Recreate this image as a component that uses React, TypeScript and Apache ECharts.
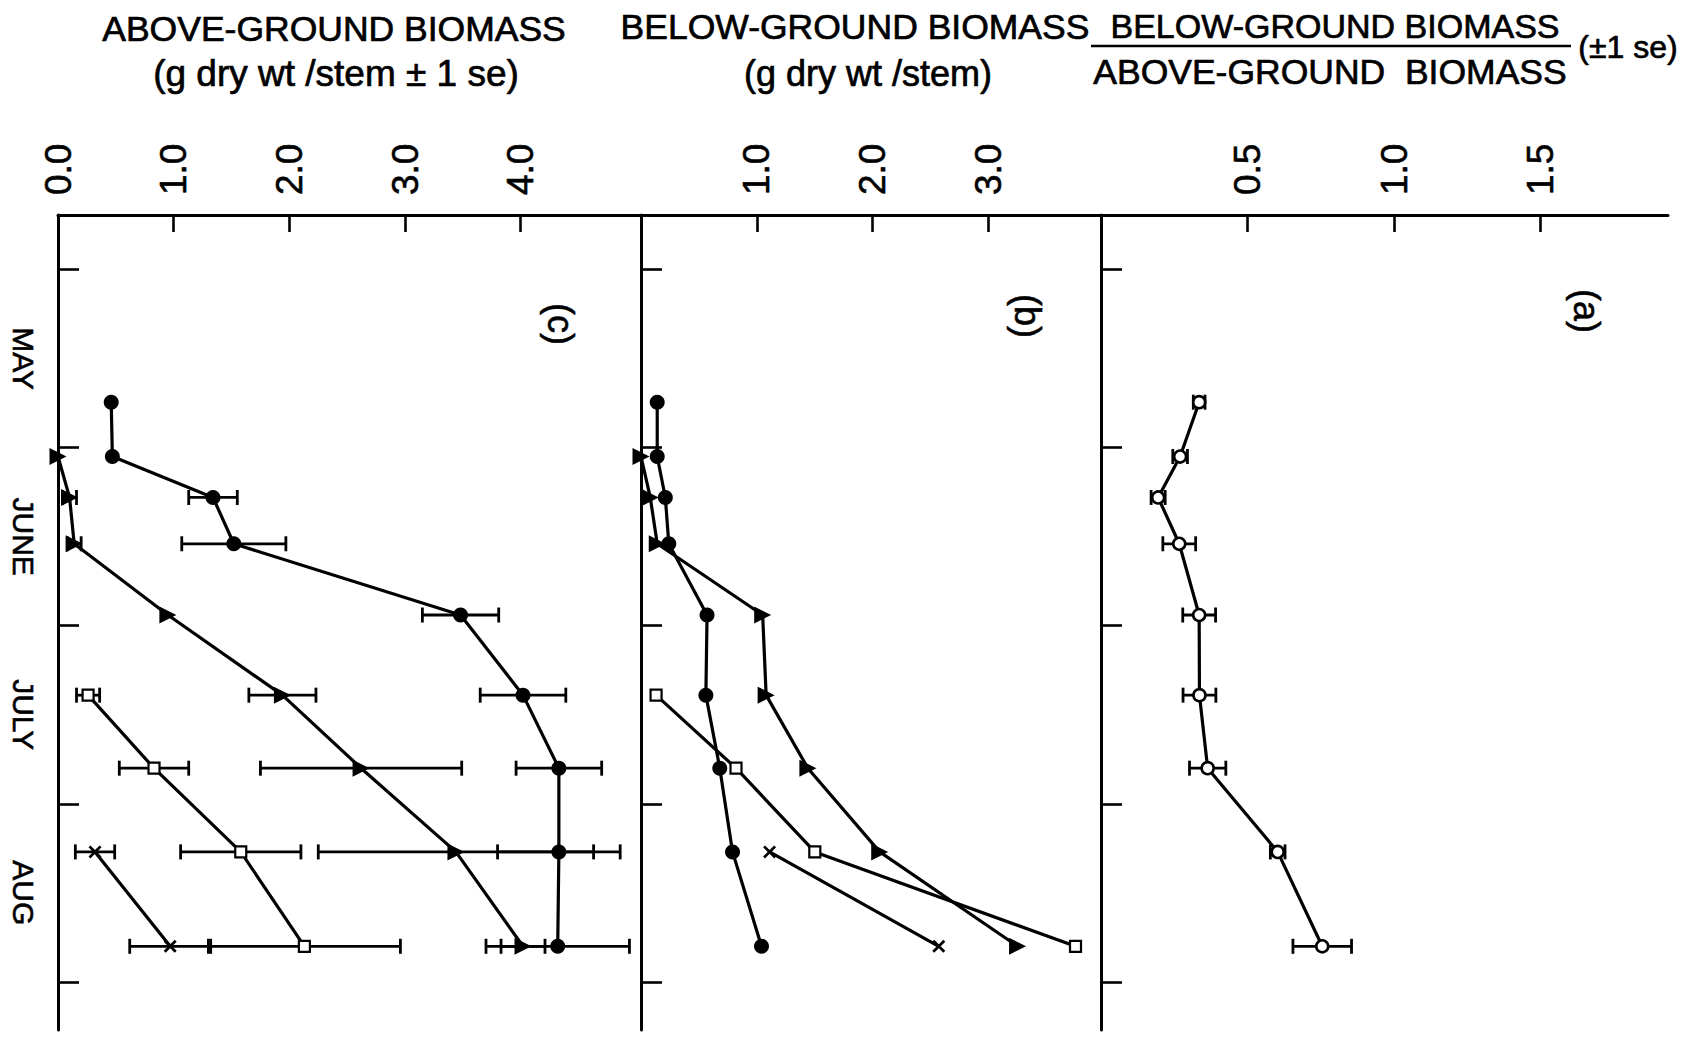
import React, { useEffect, useRef } from "react";
import * as echarts from "echarts";

// Time axis in month units: 0 = 1 May, 1 = 1 June, 2 = 1 July, 3 = 1 Aug, 4 = 1 Sep
const monthNames = ["MAY", "JUNE", "JULY", "AUG"];
const monthLabelPositions = [0.5, 1.5, 2.5, 3.5];
const monthTicks = [0, 1, 2, 3, 4];
const sampleTimes = [0.745, 1.05, 1.28, 1.54, 1.94, 2.39, 2.8, 3.27, 3.8];

// (c) Above-ground biomass (g dry wt / stem ± 1 se)
const aboveCircle = [0.46, 0.47, 1.34, 1.52, 3.48, 4.02, 4.33, 4.33, 4.32];
const aboveCircleSe = [0, 0, 0.21, 0.45, 0.33, 0.37, 0.37, 0.53, 0.62];
const aboveTriangle = [0.0, 0.1, 0.14, 0.95, 1.94, 2.62, 3.44, 4.02]; // from sample 2
const aboveTriangleSe = [0, 0.06, 0.06, 0, 0.29, 0.87, 1.19, 0.19];
const aboveSquare = [0.26, 0.83, 1.58, 2.13]; // from sample 6
const aboveSquareSe = [0.1, 0.3, 0.52, 0.83];
const aboveCross = [0.32, 0.97]; // from sample 8
const aboveCrossSe = [0.17, 0.35];

// (b) Below-ground biomass (g dry wt / stem)
const belowCircle = [0.14, 0.14, 0.21, 0.24, 0.57, 0.56, 0.68, 0.79, 1.04];
const belowTriangle = [0.0, 0.08, 0.14, 1.05, 1.08, 1.44, 2.06, 3.25];
const belowSquare = [0.13, 0.82, 1.5, 3.75];
const belowCross = [1.11, 2.57];

// (a) Below-ground / above-ground ratio (± 1 se)
const ratio = [0.335, 0.27, 0.195, 0.267, 0.335, 0.336, 0.364, 0.603, 0.755];
const ratioSe = [0.02, 0.025, 0.024, 0.056, 0.056, 0.056, 0.062, 0.025, 0.1];

// Tick labels
const aboveTickLabels = [0, 1, 2, 3, 4];
const aboveTicks = [1, 2, 3, 4];
const belowTicks = [1, 2, 3];
const ratioTicks = [0.5, 1.0, 1.5];

const FONT = "'Liberation Sans', Arial, sans-serif";
const BLACK = "#000";

const TRI_START = 1;
const SQ_START = 5;
const X_START = 7;

const CROSS =
  "path://M1.5,0 L5,3.5 L8.5,0 L10,1.5 L6.5,5 L10,8.5 L8.5,10 L5,6.5 L1.5,10 L0,8.5 L3.5,5 L0,1.5 Z";

function pts(values: number[], start: number) {
  return values.map((v, i) => [v, sampleTimes[start + i]]);
}
function errPts(values: number[], se: number[], start: number) {
  return values
    .map((v, i) => [v, sampleTimes[start + i], se[i]])
    .filter((d) => d[2] > 0);
}

function errorSeries(grid: number, data: number[][]) {
  return {
    type: "custom",
    xAxisIndex: grid,
    yAxisIndex: grid,
    data,
    encode: { x: 0, y: 1 },
    z: 1,
    renderItem: (params: any, api: any) => {
      const v = api.value(0);
      const t = api.value(1);
      const e = api.value(2);
      const p1 = api.coord([v - e, t]);
      const p2 = api.coord([v + e, t]);
      const h = 7.5;
      const style = { stroke: BLACK, lineWidth: 2.8 };
      return {
        type: "group",
        children: [
          { type: "line", shape: { x1: p1[0], y1: p1[1], x2: p2[0], y2: p2[1] }, style },
          { type: "line", shape: { x1: p1[0], y1: p1[1] - h, x2: p1[0], y2: p1[1] + h }, style },
          { type: "line", shape: { x1: p2[0], y1: p2[1] - h, x2: p2[0], y2: p2[1] + h }, style },
        ],
      };
    },
  };
}

type Mark = "circle" | "triangle" | "square" | "cross" | "open";

function lineSeries(grid: number, data: number[][], mark: Mark) {
  let symbol: string = "circle";
  let symbolSize: number = 15;
  let symbolRotate = 0;
  let itemStyle: any = { color: BLACK };
  if (mark === "triangle") {
    symbol = "triangle";
    symbolSize = 17;
    symbolRotate = -90;
  } else if (mark === "square") {
    symbol = "rect";
    symbolSize = 11;
    itemStyle = { color: "#fff", borderColor: BLACK, borderWidth: 2.2 };
  } else if (mark === "cross") {
    symbol = CROSS;
    symbolSize = 13;
  } else if (mark === "open") {
    symbol = "circle";
    symbolSize = 12;
    itemStyle = { color: "#fff", borderColor: BLACK, borderWidth: 2.6 };
  }
  return {
    type: "line",
    xAxisIndex: grid,
    yAxisIndex: grid,
    data,
    symbol,
    symbolSize,
    symbolRotate,
    showAllSymbol: true,
    lineStyle: { color: BLACK, width: 3.2 },
    itemStyle,
    z: 3,
  };
}

const TOP = 215;
const BOTTOM_Y = 1030;
const T_MIN = -0.306;
const T_MAX = 4.27;

function makeXAxis(grid: number, max: number, tickVals: number[], labelVals: number[]) {
  return {
    type: "value",
    gridIndex: grid,
    position: "top",
    min: 0,
    max,
    axisLine: { show: true, onZero: false, lineStyle: { color: BLACK, width: 3 } },
    axisTick: {
      show: true,
      inside: true,
      length: 17,
      customValues: tickVals,
      lineStyle: { color: BLACK, width: 2.6 },
    },
    axisLabel: {
      show: true,
      customValues: labelVals,
      rotate: -90,
      margin: 20,
      color: BLACK,
      fontFamily: FONT,
      fontSize: 37,
      textBorderColor: BLACK,
      textBorderWidth: 0.6,
      formatter: (v: number) => v.toFixed(1),
    },
    splitLine: { show: false },
  };
}

function makeYAxis(grid: number, withLabels: boolean) {
  return {
    type: "value",
    gridIndex: grid,
    inverse: true,
    min: T_MIN,
    max: T_MAX,
    axisLine: { show: true, onZero: false, lineStyle: { color: BLACK, width: 3 } },
    axisTick: {
      show: true,
      inside: true,
      length: 21,
      customValues: monthTicks,
      lineStyle: { color: BLACK, width: 2.6 },
    },
    axisLabel: withLabels
      ? {
          show: true,
          customValues: monthLabelPositions,
          rotate: -90,
          margin: 20,
          color: BLACK,
          fontFamily: FONT,
          fontSize: 30,
          textBorderColor: BLACK,
          textBorderWidth: 0.6,
          formatter: (v: number) => monthNames[Math.round(v - 0.5)] ?? "",
        }
      : { show: false },
    splitLine: { show: false },
  };
}

function titleText(text: string, x: number, y: number, size: number) {
  return {
    type: "text",
    x,
    y,
    style: {
      text,
      fill: BLACK,
      stroke: BLACK,
      lineWidth: 0.7,
      font: `${size}px ${FONT}`,
      align: "center",
      verticalAlign: "middle",
    },
  };
}

function panelLabel(text: string, x: number, y: number) {
  return {
    type: "text",
    x,
    y,
    rotation: -Math.PI / 2,
    style: {
      text,
      fill: BLACK,
      stroke: BLACK,
      lineWidth: 0.6,
      font: `36px ${FONT}`,
      align: "center",
      verticalAlign: "middle",
    },
  };
}

export default function App() {
  const ref = useRef<HTMLDivElement>(null);

  useEffect(() => {
    if (!ref.current) return;
    const chart = echarts.init(ref.current, null, { renderer: "svg" });
    const h = BOTTOM_Y - TOP;
    const option: any = {
      animation: false,
      backgroundColor: "#fff",
      grid: [
        { left: 58, top: TOP, width: 583, height: h },
        { left: 641, top: TOP, width: 460, height: h },
        { left: 1101, top: TOP, width: 567, height: h },
      ],
      xAxis: [
        makeXAxis(0, 5.04, aboveTicks, aboveTickLabels),
        makeXAxis(1, 3.97, belowTicks, belowTicks),
        makeXAxis(2, 1.935, ratioTicks, ratioTicks),
      ],
      yAxis: [makeYAxis(0, true), makeYAxis(1, false), makeYAxis(2, false)],
      series: [
        // (c) above-ground
        errorSeries(0, errPts(aboveCircle, aboveCircleSe, 0)),
        errorSeries(0, errPts(aboveTriangle, aboveTriangleSe, TRI_START)),
        errorSeries(0, errPts(aboveSquare, aboveSquareSe, SQ_START)),
        errorSeries(0, errPts(aboveCross, aboveCrossSe, X_START)),
        lineSeries(0, pts(aboveCircle, 0), "circle"),
        lineSeries(0, pts(aboveTriangle, TRI_START), "triangle"),
        lineSeries(0, pts(aboveSquare, SQ_START), "square"),
        lineSeries(0, pts(aboveCross, X_START), "cross"),
        // (b) below-ground
        lineSeries(1, pts(belowCircle, 0), "circle"),
        lineSeries(1, pts(belowTriangle, TRI_START), "triangle"),
        lineSeries(1, pts(belowSquare, SQ_START), "square"),
        lineSeries(1, pts(belowCross, X_START), "cross"),
        // (a) ratio
        errorSeries(2, errPts(ratio, ratioSe, 0)),
        lineSeries(2, pts(ratio, 0), "open"),
      ],
      graphic: [
        titleText("ABOVE-GROUND BIOMASS", 334, 29, 35.5),
        titleText("(g dry wt /stem ± 1 se)", 336, 73, 37),
        titleText("BELOW-GROUND BIOMASS", 855, 27, 35.5),
        titleText("(g dry wt /stem)", 868, 73, 36),
        titleText("BELOW-GROUND BIOMASS", 1335, 26, 34),
        {
          type: "line",
          shape: { x1: 1091, y1: 46, x2: 1571, y2: 46 },
          style: { stroke: BLACK, lineWidth: 2.6 },
        },
        titleText("ABOVE-GROUND  BIOMASS", 1330, 72, 35.5),
        titleText("(±1 se)", 1628, 47, 32),
        panelLabel("(c)", 560, 324),
        panelLabel("(b)", 1027, 316),
        panelLabel("(a)", 1586, 311),
      ],
    };
    chart.setOption(option);
    return () => chart.dispose();
  }, []);

  return (
    <div
      ref={ref}
      style={{ position: "fixed", left: 0, top: 0, width: 1690, height: 1037, background: "#fff" }}
    />
  );
}
